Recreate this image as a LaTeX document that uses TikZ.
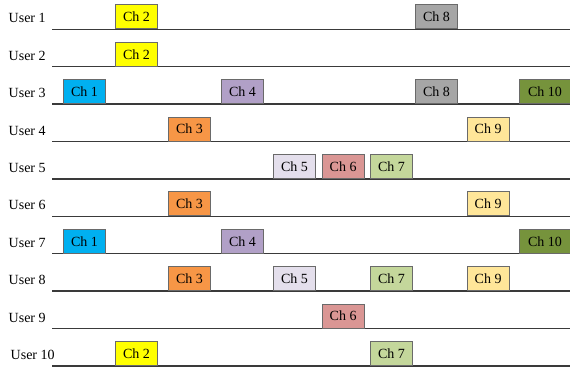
\documentclass[tikz,border=0pt]{standalone}
\usepackage{fontspec}
\setmainfont{Liberation Serif}
\definecolor{cA}{HTML}{00B0F0}
\definecolor{cB}{HTML}{FFFF00}
\definecolor{cC}{HTML}{F79646}
\definecolor{cD}{HTML}{B1A0C7}
\definecolor{cE}{HTML}{E4DFEC}
\definecolor{cF}{HTML}{DA9694}
\definecolor{cG}{HTML}{C4D79B}
\definecolor{cH}{HTML}{A6A6A6}
\definecolor{cI}{HTML}{FFE699}
\definecolor{cJ}{HTML}{76933C}
\definecolor{rule}{HTML}{3A3A3A}
\definecolor{edge}{HTML}{6A6A6A}
\tikzset{
  chbox/.style={draw=edge, line width=0.9pt, minimum width=42pt, minimum height=24pt,
    inner sep=0pt, anchor=south west, font=\fontsize{14}{16}\selectfont},
  ch1/.style={fill=cA}, ch2/.style={fill=cB}, ch3/.style={fill=cC},
  ch4/.style={fill=cD}, ch5/.style={fill=cE}, ch6/.style={fill=cF},
  ch7/.style={fill=cG}, ch8/.style={fill=cH}, ch9/.style={fill=cI},
  ch10/.style={fill=cJ, minimum width=51pt},
  timeline/.style={draw=rule, line width=1.5pt},
  userlbl/.style={anchor=base west, inner sep=0pt, font=\fontsize{14}{16}\selectfont},
}
% channel slot for user #1, channel #2
\newcommand\putch[2]{%
  \pgfmathsetmacro\chl{{63,115,168,221,273,321.7,370,415,466.7,519}[#2-1]}%
  \pgfmathsetmacro\rowy{29.3+37.4*(#1-1)}%
  \node[chbox,ch#2] (u#1c#2) at (\chl,\rowy) {Ch #2};}
% timeline and label for user #1, label left edge #2
\newcommand\putrow[2]{%
  \pgfmathsetmacro\rowy{29.3+37.4*(#1-1)}%
  \coordinate (r#1s) at (52,\rowy);
  \coordinate (r#1e) at (572,\rowy);
  \draw[timeline] (r#1s) -- (r#1e);
  \node[userlbl] (lbl#1) at (#2,\rowy-6.5) {User #1};}
\begin{document}
\begin{tikzpicture}[x=1pt,y=-1pt]
\useasboundingbox (0,0) rectangle (570,367);
\putrow{1}{8.5}\putrow{2}{8.5}\putrow{3}{8.5}\putrow{4}{8.5}\putrow{5}{8.5}
\putrow{6}{8.5}\putrow{7}{8.5}\putrow{8}{8.5}\putrow{9}{8.5}\putrow{10}{10.5}
\putch{1}{2}\putch{1}{8}
\putch{2}{2}
\putch{3}{1}\putch{3}{4}\putch{3}{8}\putch{3}{10}
\putch{4}{3}\putch{4}{9}
\putch{5}{5}\putch{5}{6}\putch{5}{7}
\putch{6}{3}\putch{6}{9}
\putch{7}{1}\putch{7}{4}\putch{7}{10}
\putch{8}{3}\putch{8}{5}\putch{8}{7}\putch{8}{9}
\putch{9}{6}
\putch{10}{2}\putch{10}{7}
\end{tikzpicture}
\end{document}
